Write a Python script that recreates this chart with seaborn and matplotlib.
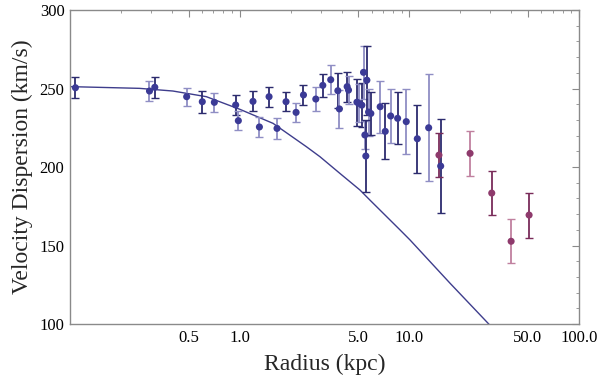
import numpy as np
import pandas as pd
import matplotlib
matplotlib.use("Agg")
import matplotlib.pyplot as plt
import matplotlib.ticker as mticker
import seaborn as sns

# inner dispersion profile (blue)
inner_r = [0.1076, 0.294, 0.316, 0.487, 0.602, 0.709, 0.947, 0.982, 1.198, 1.307,
           1.49, 1.66, 1.876, 2.15, 2.377, 2.81, 3.09, 3.44, 3.79, 3.87,
           4.30, 4.38, 4.91, 5.04, 5.25, 5.37, 5.62, 5.75, 5.93, 5.47,
           5.54, 6.73, 7.21, 7.76, 8.53, 9.59, 11.14, 13.0, 15.3]
inner_sigma = [250.5, 248.4, 250.8, 244.8, 241.6, 241.2, 239.5, 229.5, 241.8, 225.5,
               244.8, 224.6, 241.6, 234.8, 245.9, 243.3, 252.0, 255.6, 248.6, 237.0,
               251.2, 249.0, 241.3, 240.6, 239.4, 260.3, 255.3, 235.0, 234.1, 220.4,
               207.0, 238.4, 222.7, 232.5, 231.0, 228.9, 218.0, 225.0, 200.6]
inner_err = [6.6, 6.4, 6.8, 5.8, 7.1, 5.9, 6.4, 6.0, 6.3, 6.3,
             6.3, 6.6, 6.2, 6.2, 6.4, 7.6, 7.1, 9.2, 11.0, 12.0,
             9.5, 9.0, 15.0, 12.0, 14.0, 17.0, 22.0, 15.0, 13.6, 9.0,
             23.0, 16.6, 17.8, 17.3, 16.6, 20.8, 21.7, 34.0, 30.0]

# outer tracers (purple)
outer_r = [14.95, 22.8, 30.6, 39.8, 50.8]
outer_sigma = [207.6, 208.7, 183.4, 152.7, 169.4]
outer_err = [14.0, 14.3, 14.2, 14.0, 14.3]

# model curve
model_r = [0.1, 0.257, 0.404, 0.636, 1.0, 1.573, 2.475, 2.97, 3.89, 5.11,
           5.85, 8.8, 10.1, 17.4, 30.6]
model_sigma = [251.2, 250.1, 248.4, 244.8, 236.8, 227.8, 212.9, 206.6, 196.0, 185.4,
               179.0, 160.0, 153.5, 125.9, 98.0]

major_ticks = [0.5, 1.0, 5.0, 10.0, 50.0, 100.0]

sns.set_style("white")
plt.rcParams["font.family"] = ["Liberation Serif", "DejaVu Serif"]

blue = "#3b3a96"
purple = "#8e3a6c"
bar_shades = ["#2c2b6e", "#8f8ec4"]
pbar_shades = ["#7a2c5a", "#c0809f"]

fig = plt.figure(figsize=(6.0, 3.85), dpi=100)
ax = fig.add_axes([0.1167, 0.1584, 0.8483, 0.8156])

inner = pd.DataFrame({"r": inner_r, "sigma": inner_sigma, "err": inner_err})
outer = pd.DataFrame({"r": outer_r, "sigma": outer_sigma, "err": outer_err})
model = pd.DataFrame({"r": model_r, "sigma": model_sigma})

sns.lineplot(data=model, x="r", y="sigma", ax=ax, color="#3e3d8c", lw=1.0,
             sort=False, zorder=2)

for i, row in inner.iterrows():
    ax.errorbar(row["r"], row["sigma"], yerr=row["err"], fmt="none",
                ecolor=bar_shades[i % 2], elinewidth=1.3, capsize=3, capthick=1.0,
                zorder=3)
for i, row in outer.iterrows():
    ax.errorbar(row["r"], row["sigma"], yerr=row["err"], fmt="none",
                ecolor=pbar_shades[i % 2], elinewidth=1.3, capsize=3, capthick=1.0,
                zorder=3)

sns.scatterplot(data=inner, x="r", y="sigma", ax=ax, color=blue, s=26,
                edgecolor="none", zorder=4)
sns.scatterplot(data=outer, x="r", y="sigma", ax=ax, color=purple, s=26,
                edgecolor="none", zorder=4)

ax.set_xscale("log")
ax.set_xlim(0.1, 100)
ax.set_ylim(100, 300)

ax.xaxis.set_major_locator(mticker.FixedLocator(major_ticks))
ax.xaxis.set_major_formatter(mticker.FixedFormatter([f"{t:.1f}" for t in major_ticks]))
ax.xaxis.set_minor_locator(mticker.LogLocator(base=10, subs=(1, 2, 3, 4, 6, 7, 8, 9)))
ax.xaxis.set_minor_formatter(mticker.NullFormatter())
ax.yaxis.set_major_locator(mticker.MultipleLocator(50))
ax.yaxis.set_minor_locator(mticker.MultipleLocator(10))

ax.tick_params(which="both", direction="in", top=True, right=True,
               color="#8a8a8a", labelsize=12, labelcolor="black", pad=4)
ax.tick_params(which="major", length=5, width=0.8)
ax.tick_params(which="minor", length=2.5, width=0.6)
for s in ax.spines.values():
    s.set_color("#8a8a8a")
    s.set_linewidth(1.0)

ax.set_xlabel("Radius (kpc)", fontsize=17, labelpad=6)
ax.set_ylabel("Velocity Dispersion (km/s)", fontsize=17, labelpad=5)

fig.savefig("out.png", dpi=100)
